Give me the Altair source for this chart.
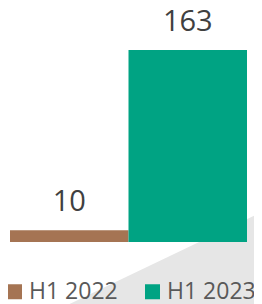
import altair as alt
import pandas as pd

categories = ["H1 2022", "H1 2023"]
values = [10, 163]
colors = ["#A57453", "#00A383"]

df = pd.DataFrame({"period": categories, "value": values})

x = alt.X("period:N", scale=alt.Scale(paddingInner=0, paddingOuter=0.0), axis=None, sort=categories)
y = alt.Y("value:Q", scale=alt.Scale(domain=[0, max(values)], nice=False), axis=None)

# decorative grey wedge in the background
wedge = alt.Chart(alt.Data(values=[{"d": 0}])).mark_point(
    shape="M1,-0.479L1,0.479L-1,0.479Z",
    filled=True,
    fill="#E6E6E6",
    opacity=1,
    strokeWidth=0,
    size=45369,
).encode(x=alt.value(153.5), y=alt.value(209))

bars = alt.Chart(df).mark_bar(size=118.5).encode(
    x=x,
    y=y,
    color=alt.Color(
        "period:N",
        scale=alt.Scale(domain=categories, range=colors),
        legend=alt.Legend(
            title=None,
            orient="none",
            direction="horizontal",
            legendX=-7,
            legendY=230,
            padding=0,
            symbolType="square",
            symbolSize=225,
            symbolStrokeWidth=0,
            labelFont="Open Sans",
            labelFontSize=23,
            labelColor="#595959",
            labelOffset=3,
            columnPadding=23,
        ),
    ),
)

labels = alt.Chart(df).mark_text(
    dy=-19, baseline="alphabetic", fontSize=29, font="Open Sans", color="#404040"
).encode(x=x, y=y, text="value:Q")

chart = alt.layer(wedge, bars, labels).properties(
    width=237,
    height=192,
    autosize=alt.AutoSizeParams(type="none"),
    padding={"left": 2, "top": 42, "right": 7, "bottom": 62},
).configure_view(stroke=None)

chart.save("out.html", embed_options={"renderer": "svg", "actions": False})
